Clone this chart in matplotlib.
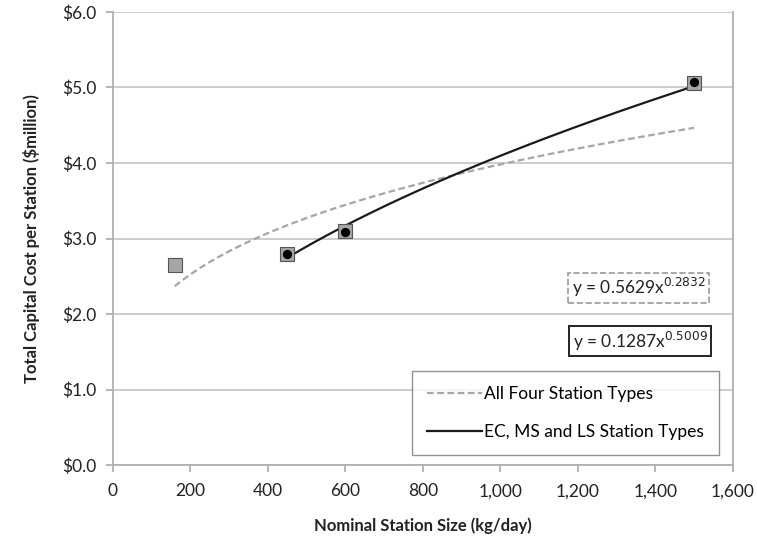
import numpy as np
import matplotlib.pyplot as plt
from matplotlib.ticker import FuncFormatter, MultipleLocator

plt.rcParams['font.family'] = ['Lato', 'DejaVu Sans']

# station data
all_size = [160, 450, 600, 1500]
all_cost = [2.65, 2.80, 3.10, 5.06]
ems_size = [450, 600, 1500]
ems_cost = [2.80, 3.09, 5.07]

# power trendlines y = a*x^b (as shown on chart)
all_fit = (0.5629, 0.2832)
ems_fit = (0.1287, 0.5009)

fig = plt.figure(figsize=(7.57, 5.44), dpi=100)
ax = fig.add_axes([0.149, 0.145, 0.819, 0.833])

xa = np.linspace(min(all_size), max(all_size), 200)
ax.plot(xa, all_fit[0] * xa ** all_fit[1], color='#a6a6a6', ls=(0, (3, 1.6)), lw=1.6,
        label='All Four Station Types', zorder=3)
xe = np.linspace(min(ems_size), max(ems_size), 200)
ax.plot(xe, ems_fit[0] * xe ** ems_fit[1], color='#1a1a1a', lw=1.6,
        label='EC, MS and LS Station Types', zorder=4)

ax.scatter(all_size, all_cost, marker='s', s=105, color='#a6a6a6', edgecolor='#555555',
           linewidth=0.8, zorder=5)
ax.scatter(ems_size, ems_cost, marker='o', s=32, color='black', zorder=6)

ax.set_xlim(0, 1600)
ax.set_ylim(0, 6)
ax.xaxis.set_major_locator(MultipleLocator(200))
ax.yaxis.set_major_locator(MultipleLocator(1))
ax.xaxis.set_major_formatter(FuncFormatter(lambda v, p: f'{int(v):,}'))
ax.yaxis.set_major_formatter(FuncFormatter(lambda v, p: f'${v:.1f}'))
ax.grid(axis='y', color='#c8c8c8', lw=1.3)
ax.set_axisbelow(True)
for s in ['left', 'bottom', 'right']:
    ax.spines[s].set_color('#b0b0b0')
    ax.spines[s].set_linewidth(1.3)
ax.spines['top'].set_visible(False)
ax.tick_params(colors='#b0b0b0', labelcolor='#222222', labelsize=12.5, length=5, width=1.3)
ax.tick_params(axis='x', pad=8)
ax.tick_params(axis='y', pad=7)

ax.set_xlabel('Nominal Station Size (kg/day)', fontsize=12, fontweight='bold',
              color='#222222', labelpad=13)
ax.set_ylabel('Total Capital Cost per Station ($million)', fontsize=12, fontweight='bold',
              color='#222222', labelpad=16)

ax.text(1530, 2.35, r'y = 0.5629x$^{0.2832}$', fontsize=12.5, ha='right', va='center',
        color='#222222',
        bbox=dict(boxstyle='square,pad=0.2', fc='white', ec='#999999', ls='--', lw=1.2))
ax.text(1535, 1.64, r'y = 0.1287x$^{0.5009}$', fontsize=12.5, ha='right', va='center',
        color='#222222',
        bbox=dict(boxstyle='square,pad=0.2', fc='white', ec='#222222', lw=1.4))

leg = ax.legend(loc='lower right', bbox_to_anchor=(0.977, 0.022), fontsize=12.5,
                frameon=True, fancybox=False, edgecolor='#777777', handlelength=3.2,
                handletextpad=0.1, borderpad=0.85, labelspacing=1.3, borderaxespad=0)
leg.get_frame().set_linewidth(1.0)

fig.savefig('out.png', dpi=100)
